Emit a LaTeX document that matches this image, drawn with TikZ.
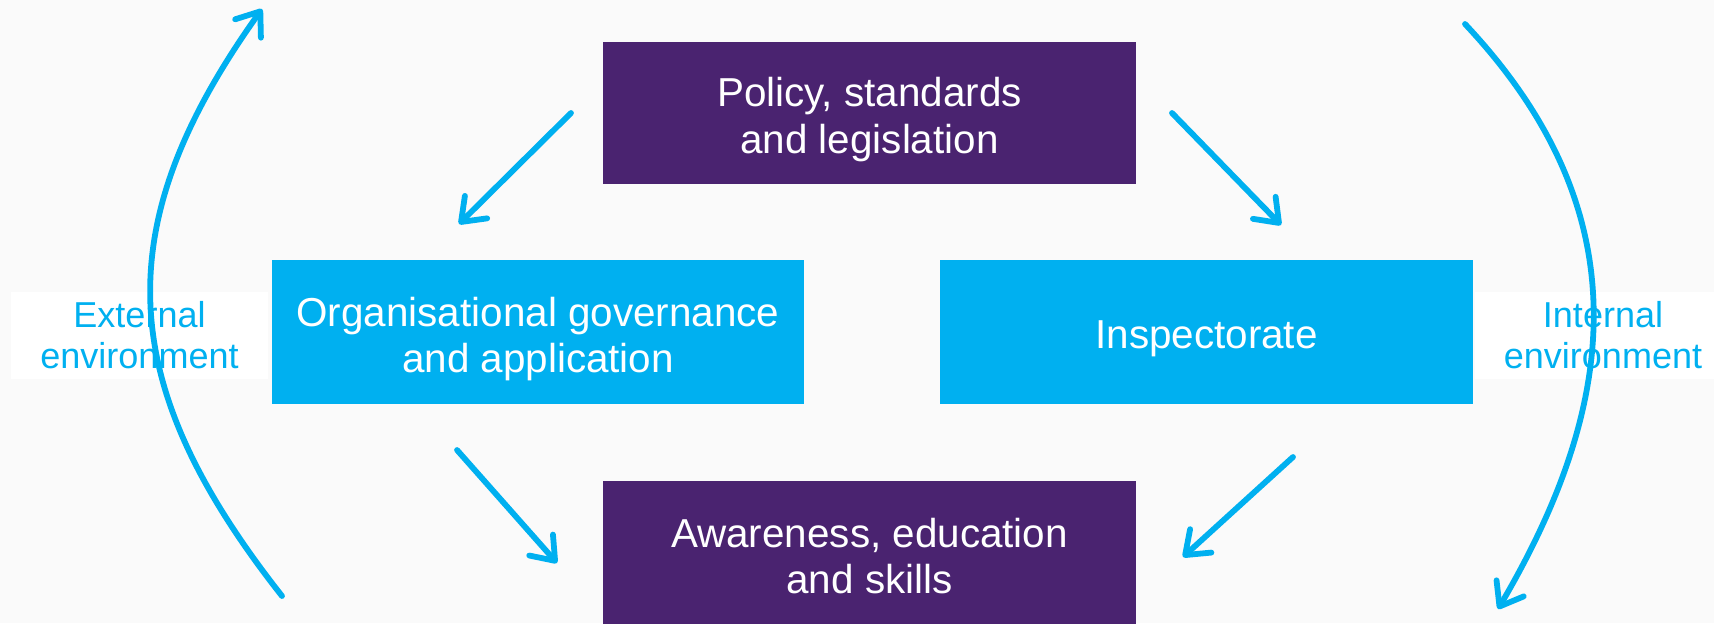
\documentclass[tikz,border=0pt]{standalone}
\usepackage{fontspec}
\setmainfont{Liberation Sans}
\usetikzlibrary{arrows.meta}
\definecolor{govpurple}{HTML}{4A2370}
\definecolor{govblue}{HTML}{00B0F0}
\definecolor{bggrey}{HTML}{FAFAFA}
\tikzstyle{boxtext} = [align=center, text=white, font=\fontsize{23}{26.7}\selectfont, yshift=-0.14cm]
\tikzstyle{purplebox} = [rectangle, minimum width=10.66cm, minimum height=2.86cm, inner sep=0pt, fill=govpurple]
\tikzstyle{bluebox} = [rectangle, minimum width=10.66cm, minimum height=2.88cm, inner sep=0pt, fill=govblue]
\tikzstyle{envlabel} = [rectangle, minimum width=5.14cm, minimum height=1.74cm, inner sep=0pt, align=center, fill=white, text=govblue, font=\fontsize{20.5}{23.6}\selectfont]
\tikzstyle{arrow} = [line width=3.3pt, draw=govblue, line cap=round, -{Straight Barb[length=12pt,width=18pt,line cap=round,line join=round]}]

\begin{document}
\begin{tikzpicture}[x=0.02cm, y=-0.02cm]

% Background
\fill[bggrey] (0,0) rectangle (1714,623);
\useasboundingbox (0,0) rectangle (1714,623);

% Side labels
\node (external) [envlabel] at (139.5,335) {External\\environment};
\node (internal) [envlabel] at (1603,335) {Internal\\environment};

% Nodes
\node (policy) [purplebox, label={[boxtext]center:Policy, standards\\and legislation}] at (869.5,113) {};
\node (organisation) [bluebox, label={[boxtext]center:Organisational governance\\and application}] at (538,332) {};
\node (inspect) [bluebox, label={[boxtext]center:Inspectorate}] at (1206.5,332) {};
\node (awareness) [purplebox, label={[boxtext, yshift=0.07cm]center:Awareness, education\\and skills}] at (869.5,552.5) {};

% Arrow ends
\coordinate (polL) at (571,113);
\coordinate (orgT) at (459,224);
\coordinate (polR) at (1172,113);
\coordinate (insT) at (1281,225);
\coordinate (orgB) at (457,450);
\coordinate (awaL) at (557,563);
\coordinate (insB) at (1293,457);
\coordinate (awaR) at (1183,557);
\coordinate (extlow) at (282,596);
\coordinate (exthigh) at (262,9);
\coordinate (inthigh) at (1465,24);
\coordinate (intlow) at (1498,609);

% Arrows
\draw [arrow] (polL) -- (orgT);
\draw [arrow] (polR) -- (insT);
\draw [arrow] (orgB) -- (awaL);
\draw [arrow] (insB) -- (awaR);
\draw [arrow] (extlow) .. controls (115,384) and (106,227) .. (exthigh);
\draw [arrow] (inthigh) .. controls (1640,210) and (1621,400) .. (intlow);

\end{tikzpicture}
\end{document}
